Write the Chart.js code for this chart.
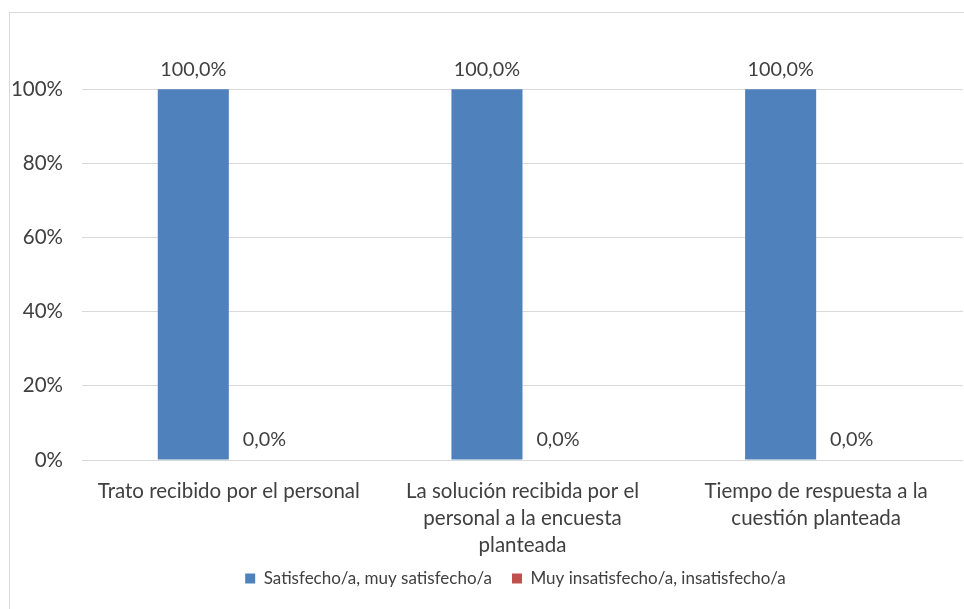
<!DOCTYPE html>
<html>
<head>
<meta charset="utf-8">
<script src="https://cdn.jsdelivr.net/npm/chart.js@4"></script>
<style>
  html, body { margin: 0; padding: 0; background: #fff; }
  #wrap { width: 964px; height: 609px; }
</style>
</head>
<body>
<div id="wrap"><canvas id="satisfChart" width="964" height="609"></canvas></div>
<script>
// Chart data
const categories = [
  ['Trato recibido por el personal'],
  ['La solución recibida por el', 'personal a la encuesta', 'planteada'],
  ['Tiempo de respuesta a la', 'cuestión planteada']
];
const seriesNames = ['Satisfecho/a, muy satisfecho/a', 'Muy insatisfecho/a, insatisfecho/a'];
const satisfiedValues = [1.0, 1.0, 1.0];
const unsatisfiedValues = [0.0, 0.0, 0.0];
const yTicks = [0, 0.2, 0.4, 0.6, 0.8, 1.0];
const yMax = 1.2;

const SERIES_COLORS = ['#4f81bd', '#c0504d'];
const TEXT_COLOR = '#404040';
const FONT = 'Lato, "Open Sans", sans-serif';

// Spanish style percent: 100,0%
function fmtPct(v) {
  return (v * 100).toFixed(1).replace('.', ',') + '%';
}

// outer chart frame + legend nudged (original chart was wider than the crop)
const framePlugin = {
  id: 'frame',
  afterLayout(chart) {
    const lg = chart.legend;
    if (lg) {
      lg.left += 34;
      lg.right += 34;
      lg.top -= 10;
      lg.bottom -= 10;
    }
  },
  beforeDraw(chart) {
    const ctx = chart.ctx;
    ctx.save();
    ctx.strokeStyle = '#d9d9d9';
    ctx.lineWidth = 1;
    ctx.strokeRect(9.5, 12.5, 980, 620);
    ctx.restore();
  }
};

// value labels over each bar
const valueLabels = {
  id: 'valueLabels',
  afterDatasetsDraw(chart) {
    const ctx = chart.ctx;
    ctx.save();
    ctx.font = '19.8px ' + FONT;
    ctx.fillStyle = TEXT_COLOR;
    ctx.textAlign = 'center';
    ctx.textBaseline = 'bottom';
    chart.data.datasets.forEach((ds, i) => {
      const meta = chart.getDatasetMeta(i);
      meta.data.forEach((bar, j) => {
        ctx.fillText(fmtPct(ds.data[j]), bar.x, bar.y - 10);
      });
    });
    ctx.restore();
  }
};

const ctx = document.getElementById('satisfChart').getContext('2d');

new Chart(ctx, {
  type: 'bar',
  data: {
    labels: categories,
    datasets: [
      {
        label: seriesNames[0],
        data: satisfiedValues,
        backgroundColor: SERIES_COLORS[0]
      },
      {
        label: seriesNames[1],
        data: unsatisfiedValues,
        backgroundColor: SERIES_COLORS[1]
      }
    ]
  },
  options: {
    responsive: false,
    animation: false,
    datasets: {
      bar: { barPercentage: 1, categoryPercentage: 0.484 }
    },
    layout: {
      padding: { top: 15, right: 1, bottom: 2, left: 0 }
    },
    plugins: {
      legend: {
        position: 'bottom',
        labels: {
          boxWidth: 10,
          boxHeight: 10,
          padding: 20,
          color: TEXT_COLOR,
          font: { family: FONT, size: 17 }
        }
      },
      tooltip: { enabled: false }
    },
    scales: {
      x: {
        grid: { display: false },
        border: { display: false },
        ticks: {
          color: TEXT_COLOR,
          padding: 10,
          maxRotation: 0,
          autoSkip: false,
          font: { family: FONT, size: 20.5, lineHeight: 1.32 }
        },
        afterFit(scale) { scale.height = 100; }
      },
      y: {
        min: 0,
        max: yMax,
        afterBuildTicks(scale) {
          scale.ticks = yTicks.concat([yMax]).map(v => ({ value: v }));
        },
        grid: {
          drawTicks: false,
          color: c => (c.tick && c.tick.value >= yMax - 1e-9) ? 'rgba(0,0,0,0)' : '#d9d9d9'
        },
        border: { display: false },
        ticks: {
          color: TEXT_COLOR,
          padding: 19,
          font: { family: FONT, size: 20.5 },
          callback: v => (v >= yMax - 1e-9) ? '' : Math.round(v * 100) + '%'
        },
        afterFit(scale) {
          scale.width = 82;
          scale.paddingTop = 0;
          scale.paddingBottom = 0;
        }
      }
    }
  },
  plugins: [framePlugin, valueLabels]
});
</script>
</body>
</html>
